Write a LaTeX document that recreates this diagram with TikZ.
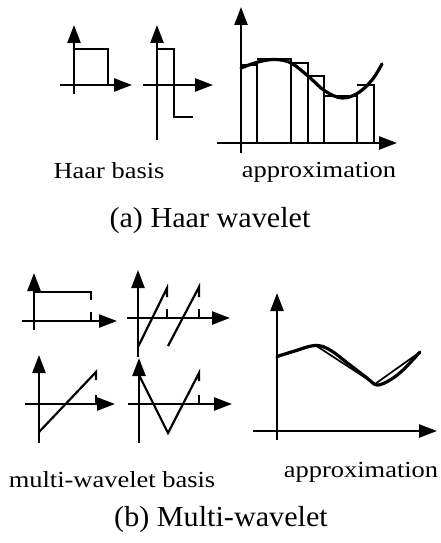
\documentclass[tikz,border=0pt]{standalone}
\usepackage{fontspec}
\setmainfont{Liberation Serif}
\newfontfamily\lblfont{Liberation Serif}[FakeStretch=1.15]
\newfontfamily\capfont{Liberation Serif}[FakeStretch=1.04]
\usetikzlibrary{arrows.meta}

\begin{document}
\begin{tikzpicture}[x=1pt,y=-1pt,
    axis/.style={line width=2.4pt,-{Triangle[length=18pt,width=13pt]}},
    basis/.style={line width=2.2pt,line join=miter},
    bar/.style={line width=1.7pt},
    func/.style={line width=3.2pt,line cap=round},
    lbl/.style={anchor=base,inner sep=0pt,font=\lblfont\fontsize{23}{27}\selectfont},
    captext/.style={anchor=base,inner sep=0pt,font=\capfont\fontsize{29}{34}\selectfont}]

  \useasboundingbox (0,0) rectangle (440,543);

  %% (a) Haar scaling function
  \draw[axis] (74,94) -- (74,25);
  \draw[axis] (60,85) -- (132,85);
  \draw[basis] (74,49) -- (108,49) -- (108,85);

  %% (a) Haar wavelet
  \draw[axis] (157,140) -- (157,25);
  \draw[axis] (143,85) -- (213,85);
  \draw[basis] (157,49) -- (174,49) -- (174,117) -- (193,117);

  %% (a) Haar approximation
  \draw[bar] (241,65) -- (257,65) -- (257,143)
             (257,59) -- (291,59) -- (291,143)
             (291,63) -- (308,63) -- (308,143)
             (308,76) -- (324,76) -- (324,143)
             (324,96) -- (357,96) -- (357,143)
             (357,85) -- (374,85) -- (374,143);
  \draw[func] plot[smooth,tension=0.6] coordinates {(241,68) (258,62) (275,59.5)
        (291,63) (308,76) (325,91) (342,98) (358,93) (372,80) (382,64)};
  \draw[axis] (241,153) -- (241,7);
  \draw[axis] (217,143) -- (397,143);

  \node[lbl] (haarbasis) at (109,178) {Haar basis};
  \node[lbl] (approxa) at (319,177) {approximation};
  \node[captext] (capa) at (210,227) {(a) Haar wavelet};

  %% (b) multi-wavelet basis, top left
  \draw[axis] (34,330) -- (34,273);
  \draw[axis] (22,321) -- (117,321);
  \draw[basis] (34,292) -- (91,292) -- (91,300);
  \draw[basis] (91,312) -- (91,321);

  %% top right
  \draw[axis] (138,357) -- (138,270);
  \draw[axis] (127,318) -- (230,318);
  \draw[basis] (138,347) -- (167,288) -- (167,297);
  \draw[basis] (167,309) -- (167,318);
  \draw[basis] (168,346) -- (199,287) -- (199,297);
  \draw[basis] (199,309) -- (199,318);

  %% bottom left
  \draw[axis] (39,443) -- (39,355);
  \draw[axis] (25,404) -- (115,404);
  \draw[basis] (39,432) -- (96,372) -- (96,380);
  \draw[basis] (96,395) -- (96,404);

  %% bottom right
  \draw[axis] (139,443) -- (139,358);
  \draw[axis] (128,404) -- (232,404);
  \draw[basis] (139,375) -- (168,433) -- (199,373) -- (199,381);
  \draw[basis] (199,395) -- (199,404);

  %% (b) multi-wavelet approximation
  \draw[func] plot[smooth,tension=0.6] coordinates {(277,356.5) (293,351.5) (315,345.5)
        (330,350) (350,365) (367,378) (377,385) (390,380) (403,370) (420,352)};
  \draw[bar] (277,357) -- (315,345) -- (375,384) -- (420,352);
  \draw[axis] (277,440) -- (277,293);
  \draw[axis] (253,431) -- (437,431);

  \node[lbl] (mwbasis) at (112,487) {multi-wavelet basis};
  \node[lbl] (approxb) at (361,477) {approximation};
  \node[captext] (capb) at (221,526) {(b) Multi-wavelet};
\end{tikzpicture}
\end{document}
